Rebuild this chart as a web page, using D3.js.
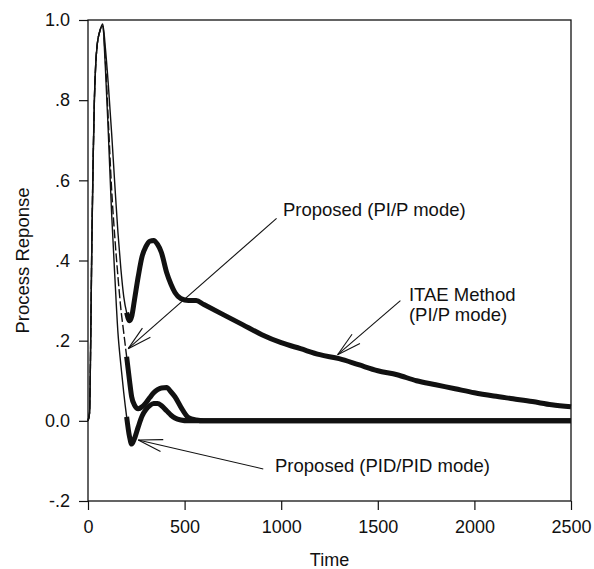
<!DOCTYPE html>
<html>
<head>
<meta charset="utf-8">
<script src="https://cdn.jsdelivr.net/npm/d3@7"></script>
<style>
  body { margin: 0; background: #fff; }
  svg text { font-family: "Liberation Sans", Arial, Helvetica, sans-serif; fill: #111; }
</style>
</head>
<body>
<svg id="chart" width="594" height="569"></svg>
<script>
// time axis readings (same grid for all three runs)
var timePts = [0, 8, 14, 20, 27, 33, 40, 48, 60, 76, 90, 105, 122, 140, 155, 170, 185, 200, 215, 226, 240, 260, 280, 300, 320, 340, 360, 380, 407, 430, 450, 480, 520, 560, 600, 700, 800, 900, 1000, 1100, 1200, 1300, 1400, 1500, 1600, 1700, 1800, 1900, 2000, 2100, 2200, 2300, 2400, 2500];

var itaeVals = [0, 0.02, 0.2, 0.45, 0.66, 0.8, 0.89, 0.94, 0.97, 0.99, 0.93, 0.84, 0.72, 0.58, 0.47, 0.38, 0.31, 0.27, 0.25, 0.26, 0.3, 0.36, 0.41, 0.435, 0.448, 0.45, 0.44, 0.42, 0.37, 0.34, 0.32, 0.305, 0.3, 0.3, 0.29, 0.265, 0.24, 0.215, 0.195, 0.18, 0.165, 0.155, 0.14, 0.125, 0.115, 0.1, 0.09, 0.08, 0.07, 0.062, 0.055, 0.048, 0.04, 0.035];

var propPIVals = [0, 0.02, 0.2, 0.45, 0.66, 0.8, 0.89, 0.94, 0.97, 0.985, 0.9, 0.75, 0.58, 0.45, 0.36, 0.28, 0.22, 0.16, 0.1, 0.06, 0.04, 0.03, 0.035, 0.045, 0.058, 0.07, 0.078, 0.082, 0.083, 0.072, 0.06, 0.035, 0.008, 0.002, 0, 0, 0, 0, 0, 0, 0, 0, 0, 0, 0, 0, 0, 0, 0, 0, 0, 0, 0, 0];

var propPIDVals = [0, 0.02, 0.2, 0.45, 0.66, 0.8, 0.89, 0.94, 0.97, 0.985, 0.88, 0.72, 0.52, 0.35, 0.22, 0.14, 0.07, 0.01, -0.04, -0.058, -0.045, -0.015, 0.012, 0.028, 0.038, 0.043, 0.043, 0.038, 0.025, 0.014, 0.007, 0.002, 0, 0, 0, 0, 0, 0, 0, 0, 0, 0, 0, 0, 0, 0, 0, 0, 0, 0, 0, 0, 0, 0];

var xTicks = [0, 500, 1000, 1500, 2000, 2500];
var yTicks = [-0.2, 0, 0.2, 0.4, 0.6, 0.8, 1.0];
var yTickLabels = ["-.2", "0.0", ".2", ".4", ".6", ".8", "1.0"];

// annotation text anchors and arrow ends in data units
var notes = [
  {lines: ["Proposed (PI/P mode)"], tx: 1009, ty: 0.51, from: [976, 0.505], tip: [208, 0.18]},
  {lines: ["ITAE Method", "(PI/P mode)"], tx: 1661, ty: 0.30, from: [1617, 0.30], tip: [1292, 0.165]},
  {lines: ["Proposed (PID/PID mode)"], tx: 968, ty: -0.128, from: [907, -0.12], tip: [260, -0.048]}
];

var noiseFrom = 200; // after this time the measured signal shows as a thick noisy band

var svg = d3.select("#chart");
var margin = {left: 88, right: 23, top: 20, bottom: 68};
var W = 594, H = 569;

var x = d3.scaleLinear().domain([0, 2500]).range([margin.left, W - margin.right]);
var y = d3.scaleLinear().domain([-0.2, 1.0]).range([H - margin.bottom, margin.top]);

// axes
var yAxis = d3.axisLeft(y)
  .tickValues(yTicks)
  .tickFormat((d, i) => yTickLabels[i])
  .tickSize(9)
  .tickSizeOuter(0)
  .tickPadding(9);

var xAxis = d3.axisBottom(x)
  .tickValues(xTicks)
  .tickFormat(d3.format("d"))
  .tickSize(9)
  .tickSizeOuter(0)
  .tickPadding(10);

var gy = svg.append("g")
  .attr("transform", `translate(${margin.left},0)`)
  .call(yAxis);
var gx = svg.append("g")
  .attr("transform", `translate(0,${H - margin.bottom})`)
  .call(xAxis);

[gx, gy].forEach(g => {
  g.select(".domain").remove();
  g.selectAll(".tick line").attr("stroke", "#111").attr("stroke-width", 1.2);
  g.selectAll(".tick text").attr("font-size", 18).attr("fill", "#111");
});

// frame
svg.append("rect")
  .attr("x", x(0))
  .attr("y", y(1.0))
  .attr("width", x(2500) - x(0))
  .attr("height", y(-0.2) - y(1.0))
  .attr("fill", "none")
  .attr("stroke", "#111")
  .attr("stroke-width", 1.3);

// axis titles
svg.append("text")
  .attr("x", (x(0) + x(2500)) / 2)
  .attr("y", 566)
  .attr("text-anchor", "middle")
  .attr("font-size", 18)
  .text("Time");

svg.append("text")
  .attr("transform", `translate(29,${(y(1.0) + y(-0.2)) / 2}) rotate(-90)`)
  .attr("text-anchor", "middle")
  .attr("font-size", 18.5)
  .text("Process Reponse");

// series
var series = [
  {vals: itaeVals, dash: null},
  {vals: propPIVals, dash: "9,3"},
  {vals: propPIDVals, dash: null}
];

var line = d3.line()
  .x(d => x(d[0]))
  .y(d => y(d[1]))
  .curve(d3.curveMonotoneX);

var plot = svg.append("g");

series.forEach(s => {
  var pts = timePts.map((t, i) => [t, s.vals[i]]);
  var early = pts.filter(p => p[0] <= noiseFrom + 30);
  var late = pts.filter(p => p[0] >= noiseFrom);

  plot.append("path")
    .attr("d", line(early))
    .attr("fill", "none")
    .attr("stroke", "#111")
    .attr("stroke-width", 1.4)
    .attr("stroke-dasharray", s.dash);

  plot.append("path")
    .attr("d", line(late))
    .attr("fill", "none")
    .attr("stroke", "#111")
    .attr("stroke-width", 5)
    .attr("stroke-linejoin", "round");
});

// annotations with open arrowheads
var ann = svg.append("g");
notes.forEach(n => {
  n.lines.forEach((txt, i) => {
    ann.append("text")
      .attr("x", x(n.tx))
      .attr("y", y(n.ty) + i * 20)
      .attr("font-size", 18.5)
      .text(txt);
  });

  var x0 = x(n.from[0]), y0 = y(n.from[1]);
  var x1 = x(n.tip[0]), y1 = y(n.tip[1]);
  ann.append("line")
    .attr("x1", x0).attr("y1", y0)
    .attr("x2", x1).attr("y2", y1)
    .attr("stroke", "#111")
    .attr("stroke-width", 1.1);

  var ang = Math.atan2(y0 - y1, x0 - x1);
  var spread = 14 * Math.PI / 180, len = 25;
  [-spread, spread].forEach(a => {
    ann.append("line")
      .attr("x1", x1).attr("y1", y1)
      .attr("x2", x1 + len * Math.cos(ang + a))
      .attr("y2", y1 + len * Math.sin(ang + a))
      .attr("stroke", "#111")
      .attr("stroke-width", 1.1);
  });
});
</script>
</body>
</html>
